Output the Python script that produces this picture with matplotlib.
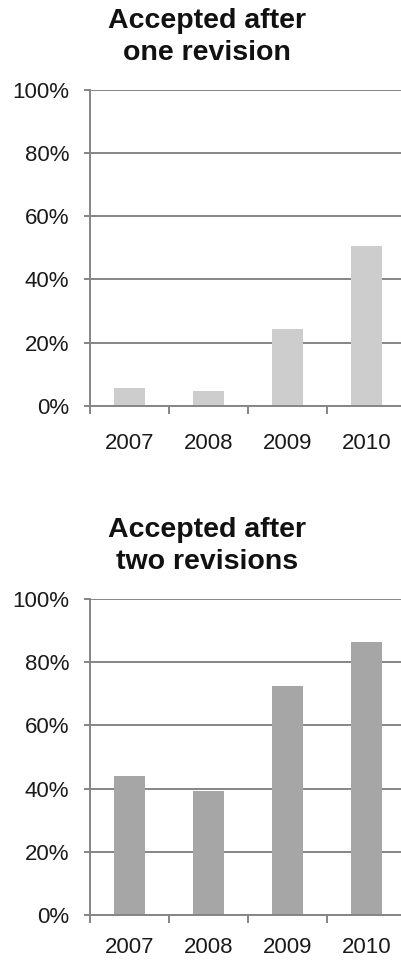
import numpy as np
import matplotlib
matplotlib.use("Agg")
import matplotlib.pyplot as plt
from matplotlib.ticker import FixedLocator, PercentFormatter

plt.rcParams['font.family'] = ['Liberation Sans', 'DejaVu Sans']

years = ["2007", "2008", "2009", "2010"]
one_revision = [5.5, 4.8, 24.3, 50.6]
two_revisions = [44.0, 39.3, 72.6, 86.4]

titles = ["Accepted after\none revision", "Accepted after\ntwo revisions"]
bar_colors = ["#cdcdcd", "#a6a6a6"]
grid_col = "#858585"

fig = plt.figure(figsize=(4.02, 9.65), dpi=100)

# axes boxes in figure fraction (left, bottom, width, height)
boxes = [[90/402, 1-405.7/965, 1-90/402, 315.7/965],
         [90/402, 1-915/965, 1-90/402, 316/965]]
title_y = [1-37/965, 1-546/965]
xpads = [20, 16]

for i, vals in enumerate([one_revision, two_revisions]):
    ax = fig.add_axes(boxes[i])
    x = np.arange(len(years))
    ax.bar(x, vals, width=0.4, color=bar_colors[i], zorder=2)
    ax.set_ylim(0, 100)
    ax.set_xlim(-0.5, -0.5 + (402-90)/79)
    ax.set_yticks([0, 20, 40, 60, 80, 100])
    ax.yaxis.set_major_formatter(PercentFormatter(decimals=0))
    ax.yaxis.grid(True, color=grid_col, linewidth=1.4, zorder=1)
    ax.set_axisbelow(True)

    ax.set_xticks(x)
    ax.set_xticklabels(years)
    ax.xaxis.set_minor_locator(FixedLocator([-0.5, 0.5, 1.5, 2.5, 3.5]))
    ax.tick_params(axis='x', which='major', length=0, pad=xpads[i], labelsize=16, labelcolor="#1a1a1a")
    ax.tick_params(axis='x', which='minor', length=6, width=1.4, color=grid_col, direction='out')
    ax.tick_params(axis='y', length=4, width=1.4, color=grid_col, pad=11, labelsize=16, labelcolor="#1a1a1a")

    for s in ['top', 'right']:
        ax.spines[s].set_visible(False)
    for s in ['left', 'bottom']:
        ax.spines[s].set_color(grid_col)
        ax.spines[s].set_linewidth(1.4)
    ax.spines['bottom'].set_zorder(3)

    fig.text(207/402, title_y[i], titles[i], ha='center', va='center',
             fontsize=20.5, fontweight='bold', linespacing=1.3, color="#111111")

fig.savefig("out.png", dpi=100)
